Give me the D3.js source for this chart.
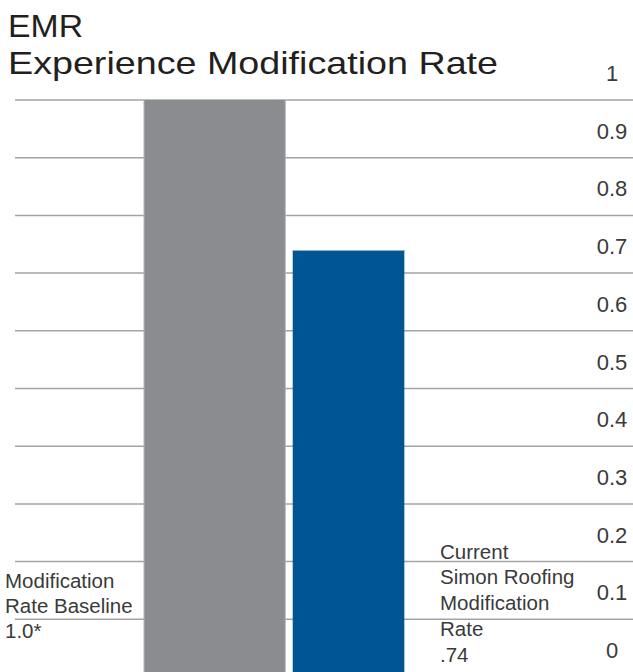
<!DOCTYPE html>
<html>
<head>
<meta charset="utf-8">
<script src="https://cdn.jsdelivr.net/npm/d3@7"></script>
<style>
  html, body { margin: 0; padding: 0; background: #fff; }
  svg { display: block; font-family: "Liberation Sans", Arial, sans-serif; }
</style>
</head>
<body>
<div id="chart"></div>
<script>
// chart data
const categories = ["baseline", "current"];
const values = [1.0, 0.74];
const barLabels = [
  ["Modification", "Rate Baseline", "1.0*"],
  ["Current", "Simon Roofing", "Modification", "Rate", ".74"]
];
const tickValues = [0, 0.1, 0.2, 0.3, 0.4, 0.5, 0.6, 0.7, 0.8, 0.9, 1];
const tickLabels = ["0", "0.1", "0.2", "0.3", "0.4", "0.5", "0.6", "0.7", "0.8", "0.9", "1"];
const titleLines = ["EMR", "Experience Modification Rate"];

const width = 633, height = 672;
const colors = ["#8b8c90", "#005595"];

const svg = d3.select("#chart").append("svg")
  .attr("width", width)
  .attr("height", height);

// y scale - zero sits just below the bottom of the picture
const y = d3.scaleLinear().domain([0, 1]).range([677, 100]);

// x scale for the two bars
const x = d3.scaleBand().domain(categories).range([144, 434]).paddingInner(0.05);
const widthFactor = [1, 0.79];

// grid lines (value lines 0.1 .. 1)
svg.append("g")
  .selectAll("line")
  .data(tickValues.filter(d => d > 0))
  .enter().append("line")
  .attr("x1", 15)
  .attr("x2", 633)
  .attr("y1", d => y(d))
  .attr("y2", d => y(d))
  .attr("stroke", "#a3a3a3")
  .attr("stroke-width", 1.5);

// bars
const bars = svg.append("g");
bars.selectAll("rect")
  .data(values)
  .enter().append("rect")
  .attr("x", (d, i) => x(categories[i]))
  .attr("y", d => y(d))
  .attr("width", (d, i) => x.bandwidth() * widthFactor[i])
  .attr("height", d => y(0) - y(d))
  .attr("fill", (d, i) => colors[i]);

// light edges seen on the bars
bars.append("line")
  .attr("x1", x(categories[1]))
  .attr("x2", x(categories[1]) + x.bandwidth() * widthFactor[1])
  .attr("y1", y(values[1]) + 0.5)
  .attr("y2", y(values[1]) + 0.5)
  .attr("stroke", "#8fb0cc")
  .attr("stroke-width", 1);
[0, x.bandwidth()].forEach(dx => {
  bars.append("line")
    .attr("x1", x(categories[0]) + dx)
    .attr("x2", x(categories[0]) + dx)
    .attr("y1", y(values[0]))
    .attr("y2", y(0))
    .attr("stroke", "#b4b5b8")
    .attr("stroke-width", 1);
});

// tick labels, sitting just above their value line
svg.append("g")
  .selectAll("text")
  .data(tickValues)
  .enter().append("text")
  .attr("x", 612)
  .attr("y", d => y(d) - 19)
  .attr("text-anchor", "middle")
  .attr("font-size", 22)
  .attr("fill", "#3a3a3a")
  .text((d, i) => tickLabels[i]);

// title (the original face is wider than Liberation Sans, so stretch it)
const titleWidths = [75, 490];
svg.append("g")
  .selectAll("text")
  .data(titleLines)
  .enter().append("text")
  .attr("x", 8)
  .attr("y", (d, i) => 36.7 + i * 37.3)
  .attr("font-size", 32)
  .attr("fill", "#231f20")
  .attr("textLength", (d, i) => titleWidths[i])
  .attr("lengthAdjust", "spacingAndGlyphs")
  .text(d => d);

// bar labels
const labelPos = [
  { x: 5, y: 588, step: 25 },
  { x: 440, y: 558.5, step: 25.8 }
];
barLabels.forEach((lines, i) => {
  svg.append("g")
    .selectAll("text")
    .data(lines)
    .enter().append("text")
    .attr("x", labelPos[i].x)
    .attr("y", (d, j) => labelPos[i].y + j * labelPos[i].step)
    .attr("font-size", 20.5)
    .attr("fill", "#3a3a3a")
    .text(d => d);
});
</script>
</body>
</html>
